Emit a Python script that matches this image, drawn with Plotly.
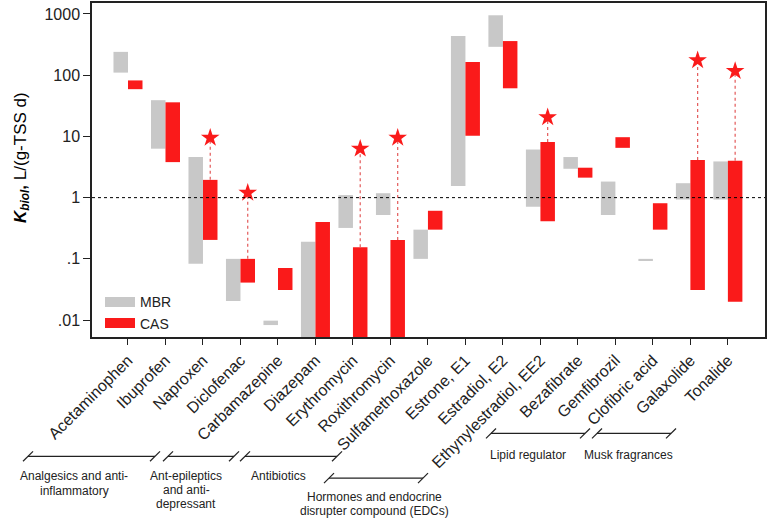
import numpy as np
import plotly.graph_objects as go

categories = ["Acetaminophen", "Ibuprofen", "Naproxen", "Diclofenac", "Carbamazepine",
              "Diazepam", "Erythromycin", "Roxithromycin", "Sulfamethoxazole", "Estrone, E1",
              "Estradiol, E2", "Ethynylestradiol, EE2", "Bezafibrate", "Gemfibrozil",
              "Clofibric acid", "Galaxolide", "Tonalide"]

mbr_low = [110, 6.3, 0.083, 0.0205, 0.0083, 0.001, 0.32, 0.52, 0.10, 1.55, 290, 0.71, 2.96, 0.52, 0.095, 0.93, 0.93]
mbr_high = [240, 39, 4.6, 0.10, 0.0098, 0.19, 1.1, 1.18, 0.30, 435, 950, 6.1, 4.6, 1.83, 0.10, 1.72, 3.9]
cas_low = [59, 3.8, 0.204, 0.041, 0.031, 0.001, 0.001, 0.001, 0.30, 10.2, 61, 0.41, 2.12, 6.5, 0.30, 0.031, 0.020]
cas_high = [82, 36, 1.95, 0.10, 0.071, 0.40, 0.155, 0.204, 0.61, 164, 360, 8.1, 3.08, 9.7, 0.81, 4.1, 4.0]
star_vals = [None, None, 9.5, 1.2, None, None, 6.3, 9.5, None, None, None, 20.5, None, None, None, 175, 117]

y_tickvals = [0.01, 0.1, 1, 10, 100, 1000]
y_ticktext = [".01", ".1", "1", "10", "100", "1000"]

GRAY = "#c8c8c8"
RED = "#fa1a1a"
FONT = "Liberation Sans, Arial, sans-serif"

W, H = 768, 527
L, R, T, B = 92, 3, 1, 190
PW, PH = W - L - R, H - T - B


def px(x):
    return (x - L) / PW


def py(y):
    return (H - B - y) / PH


x = np.arange(len(categories))
bw = 0.387

fig = go.Figure()
fig.add_trace(go.Bar(x=x, base=mbr_low, y=np.array(mbr_high) - np.array(mbr_low),
                     width=bw, offset=-bw, marker=dict(color=GRAY, line=dict(width=0)),
                     showlegend=False, name="MBR"))
fig.add_trace(go.Bar(x=x, base=cas_low, y=np.array(cas_high) - np.array(cas_low),
                     width=bw, offset=0, marker=dict(color=RED, line=dict(width=0)),
                     showlegend=False, name="CAS"))

# dotted connectors and stars
lx, ly, sx, sy = [], [], [], []
for i, s in enumerate(star_vals):
    if s is None:
        continue
    xc = i + bw / 2
    lx += [xc, xc, None]
    ly += [cas_high[i], s, None]
    sx.append(xc)
    sy.append(s)
fig.add_trace(go.Scatter(x=lx, y=ly, mode="lines", line=dict(color="#e35a5a", width=1.2, dash="dot"),
                         showlegend=False, hoverinfo="skip"))
fig.add_trace(go.Scatter(x=sx, y=sy, mode="markers", marker=dict(symbol="star", size=14, color=RED,
                                                                 line=dict(width=0)),
                         showlegend=False))

xr = [-0.96, 16.99]
fig.add_trace(go.Scatter(x=xr, y=[1, 1], mode="lines", line=dict(color="black", width=1, dash="dot"),
                         showlegend=False, hoverinfo="skip"))

# legend proxies
fig.add_trace(go.Scatter(x=[None], y=[None], mode="lines", line=dict(color=GRAY, width=10), name="MBR"))
fig.add_trace(go.Scatter(x=[None], y=[None], mode="lines", line=dict(color=RED, width=10), name="CAS"))

shapes = []
annotations = []


def group(x1, x2, y, text_lines, tx, ty0, dy=14.5):
    shapes.append(dict(type="line", xref="paper", yref="paper", x0=px(x1), x1=px(x2), y0=py(y), y1=py(y),
                       line=dict(color="#222", width=1.2)))
    for xe in (x1, x2):
        shapes.append(dict(type="line", xref="paper", yref="paper", x0=px(xe - 5), x1=px(xe + 5),
                           y0=py(y + 5), y1=py(y - 5), line=dict(color="#222", width=1.2)))
    for k, t in enumerate(text_lines):
        annotations.append(dict(xref="paper", yref="paper", x=px(tx), y=py(ty0 + k * dy), text=t,
                                showarrow=False, xanchor="center", yanchor="middle",
                                font=dict(family=FONT, size=12, color="#222")))


group(28, 155, 457, ["Analgesics and anti-", "inflammatory"], 74, 477)
group(168, 234, 457, ["Ant-epileptics", "and anti-", "depressant"], 186, 477, 13.8)
group(245, 337, 457, ["Antibiotics"], 278, 477)
group(329, 423, 479, ["Hormones and endocrine", "disrupter compound (EDCs)"], 374, 498)
group(491, 585, 434, ["Lipid regulator"], 528, 456)
group(597, 671, 434, ["Musk fragrances"], 628, 456)

annotations.append(dict(xref="paper", yref="paper", x=px(22), y=py(157), textangle=-90, showarrow=False,
                        text="<b><i>K</i></b><sub><b><i>biol</i></b></sub><b>,</b> L/(g-TSS d)",
                        font=dict(family=FONT, size=17, color="black"), xanchor="center", yanchor="middle"))

fig.update_layout(
    width=W, height=H, margin=dict(l=L, r=R, t=T, b=B, pad=0),
    paper_bgcolor="white", plot_bgcolor="white", barmode="overlay",
    font=dict(family=FONT, color="#222"),
    shapes=shapes, annotations=annotations,
    legend=dict(x=px(100), y=py(286), xanchor="left", yanchor="top", bgcolor="rgba(0,0,0,0)",
                font=dict(family=FONT, size=14, color="#222"), tracegroupgap=0, itemwidth=30),
    xaxis=dict(range=xr, tickvals=list(x), ticktext=categories, tickangle=-45, ticks="outside",
               ticklen=6, tickwidth=1.2, tickcolor="#222", showline=True, linecolor="#222",
               linewidth=1.5, mirror=True, showgrid=False, zeroline=False,
               tickfont=dict(family=FONT, size=16, color="#222")),
    yaxis=dict(type="log", range=[np.log10(0.0053), 3.178], tickvals=y_tickvals, ticktext=y_ticktext,
               ticks="outside", ticklen=7, tickwidth=1.2, tickcolor="#222", showline=True,
               linecolor="#222", linewidth=1.5, mirror=True, showgrid=False, zeroline=False,
               tickfont=dict(family=FONT, size=16, color="#222")),
)

fig.write_html("out.html", config={"displayModeBar": False},
               post_script="document.body.style.margin='0';document.body.style.overflow='hidden';")
